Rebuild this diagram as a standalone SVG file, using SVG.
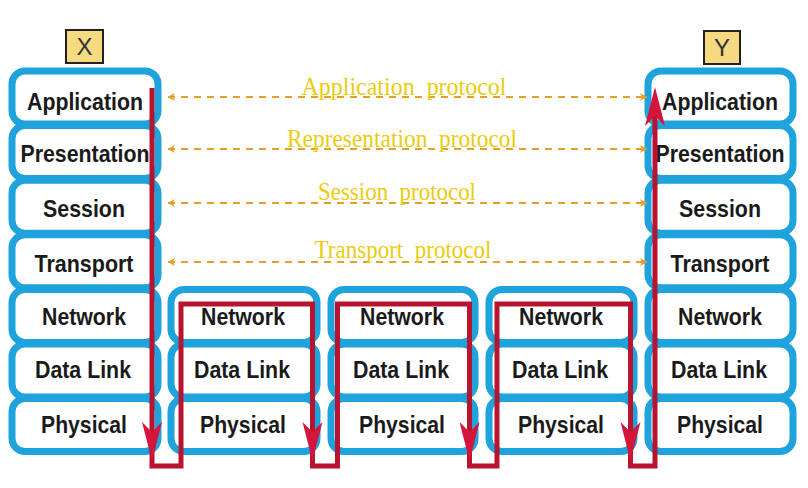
<svg xmlns="http://www.w3.org/2000/svg" width="808" height="488" viewBox="0 0 808 488">
<defs>
<style>
.layer{fill:#fff;stroke:#1fa3dd;stroke-width:7}
.lbl{font-family:"Liberation Sans",Arial,sans-serif;font-weight:bold;font-size:24px;fill:#1a1a1a;text-anchor:middle}
.tag{fill:#f6da82;stroke:#222;stroke-width:2}
.tagt{font-family:"Liberation Sans",Arial,sans-serif;font-size:24px;fill:#333;text-anchor:middle}
.proto{font-family:"Liberation Serif","Times New Roman",serif;font-size:26px;fill:#eccb0c;text-anchor:middle;white-space:pre}
.dash{fill:none;stroke:#e6a02a;stroke-width:2;stroke-dasharray:7 6}
.red{fill:none;stroke:#b8142f;stroke-width:5;stroke-linejoin:miter}
.head{fill:#d4153c}
</style>
<marker id="oa" viewBox="0 0 10 10" refX="9" refY="5" markerWidth="9" markerHeight="8" markerUnits="userSpaceOnUse" orient="auto-start-reverse">
<path d="M0,0 L10,5 L0,10 L3,5 Z" fill="#e6a02a"/>
</marker>
</defs>
<rect width="808" height="488" fill="#fff"/>

<g id="tagX"><rect class="tag" x="66" y="30" width="37" height="33"/><text class="tagt" x="84.5" y="55">X</text></g>
<g id="tagY"><rect class="tag" x="704" y="31" width="36" height="33"/><text class="tagt" x="722" y="56">Y</text></g>

<g id="stackX">
<rect class="layer" x="12" y="71" width="146" height="53" rx="13"/>
<rect class="layer" x="12" y="125.6" width="146" height="53" rx="13"/>
<rect class="layer" x="12" y="180.2" width="146" height="53" rx="13"/>
<rect class="layer" x="12" y="234.8" width="146" height="53" rx="13"/>
<rect class="layer" x="12" y="289.4" width="146" height="53" rx="13"/>
<rect class="layer" x="12" y="344" width="146" height="53" rx="13"/>
<rect class="layer" x="12" y="398.6" width="146" height="53" rx="13"/>
<text class="lbl" x="85" y="110" textLength="116" lengthAdjust="spacingAndGlyphs">Application</text>
<text class="lbl" x="85" y="162" textLength="129" lengthAdjust="spacingAndGlyphs">Presentation</text>
<text class="lbl" x="84" y="217" textLength="82" lengthAdjust="spacingAndGlyphs">Session</text>
<text class="lbl" x="84" y="272" textLength="99" lengthAdjust="spacingAndGlyphs">Transport</text>
<text class="lbl" x="84" y="325" textLength="84" lengthAdjust="spacingAndGlyphs">Network</text>
<text class="lbl" x="83" y="378" textLength="96" lengthAdjust="spacingAndGlyphs">Data Link</text>
<text class="lbl" x="84" y="433" textLength="86" lengthAdjust="spacingAndGlyphs">Physical</text>
</g>

<g id="router1">
<rect class="layer" x="171" y="289.4" width="146" height="53" rx="13"/>
<rect class="layer" x="171" y="344" width="146" height="53" rx="13"/>
<rect class="layer" x="171" y="398.6" width="146" height="53" rx="13"/>
<text class="lbl" x="243" y="325" textLength="84" lengthAdjust="spacingAndGlyphs">Network</text>
<text class="lbl" x="242" y="378" textLength="96" lengthAdjust="spacingAndGlyphs">Data Link</text>
<text class="lbl" x="243" y="433" textLength="86" lengthAdjust="spacingAndGlyphs">Physical</text>
</g>

<g id="router2">
<rect class="layer" x="331" y="289.4" width="144" height="53" rx="13"/>
<rect class="layer" x="331" y="344" width="144" height="53" rx="13"/>
<rect class="layer" x="331" y="398.6" width="144" height="53" rx="13"/>
<text class="lbl" x="402" y="325" textLength="84" lengthAdjust="spacingAndGlyphs">Network</text>
<text class="lbl" x="401" y="378" textLength="96" lengthAdjust="spacingAndGlyphs">Data Link</text>
<text class="lbl" x="402" y="433" textLength="86" lengthAdjust="spacingAndGlyphs">Physical</text>
</g>

<g id="router3">
<rect class="layer" x="489" y="289.4" width="145" height="53" rx="13"/>
<rect class="layer" x="489" y="344" width="145" height="53" rx="13"/>
<rect class="layer" x="489" y="398.6" width="145" height="53" rx="13"/>
<text class="lbl" x="561" y="325" textLength="84" lengthAdjust="spacingAndGlyphs">Network</text>
<text class="lbl" x="560" y="378" textLength="96" lengthAdjust="spacingAndGlyphs">Data Link</text>
<text class="lbl" x="561" y="433" textLength="86" lengthAdjust="spacingAndGlyphs">Physical</text>
</g>

<g id="stackY">
<rect class="layer" x="648" y="71" width="145" height="53" rx="13"/>
<rect class="layer" x="648" y="125.6" width="145" height="53" rx="13"/>
<rect class="layer" x="648" y="180.2" width="145" height="53" rx="13"/>
<rect class="layer" x="648" y="234.8" width="145" height="53" rx="13"/>
<rect class="layer" x="648" y="289.4" width="145" height="53" rx="13"/>
<rect class="layer" x="648" y="344" width="145" height="53" rx="13"/>
<rect class="layer" x="648" y="398.6" width="145" height="53" rx="13"/>
<text class="lbl" x="720" y="110" textLength="116" lengthAdjust="spacingAndGlyphs">Application</text>
<text class="lbl" x="720" y="162" textLength="129" lengthAdjust="spacingAndGlyphs">Presentation</text>
<text class="lbl" x="720" y="217" textLength="82" lengthAdjust="spacingAndGlyphs">Session</text>
<text class="lbl" x="720" y="272" textLength="99" lengthAdjust="spacingAndGlyphs">Transport</text>
<text class="lbl" x="720" y="325" textLength="84" lengthAdjust="spacingAndGlyphs">Network</text>
<text class="lbl" x="719" y="378" textLength="96" lengthAdjust="spacingAndGlyphs">Data Link</text>
<text class="lbl" x="720" y="433" textLength="86" lengthAdjust="spacingAndGlyphs">Physical</text>
</g>

<g id="connectors">
<line class="dash" x1="168" y1="97" x2="647" y2="97" marker-start="url(#oa)" marker-end="url(#oa)"/>
<line class="dash" x1="168" y1="149" x2="647" y2="149" marker-start="url(#oa)" marker-end="url(#oa)"/>
<line class="dash" x1="168" y1="203" x2="647" y2="203" marker-start="url(#oa)" marker-end="url(#oa)"/>
<line class="dash" x1="168" y1="262" x2="647" y2="262" marker-start="url(#oa)" marker-end="url(#oa)"/>
<text class="proto" x="404" y="95" textLength="205" lengthAdjust="spacingAndGlyphs">Application  protocol</text>
<text class="proto" x="402" y="147" textLength="230" lengthAdjust="spacingAndGlyphs">Representation  protocol</text>
<text class="proto" x="397" y="200" textLength="158" lengthAdjust="spacingAndGlyphs">Session  protocol</text>
<text class="proto" x="403" y="258" textLength="177" lengthAdjust="spacingAndGlyphs">Transport  protocol</text>

<path class="red" d="M152,88 V466 H181 V304 H312.5 V466 H337.5 V304 H469.5 V466 H497 V304 H630.5 V466 H655 V110"/>
<polygon class="head" points="152,461 142,422 152,432 162,422"/>
<polygon class="head" points="312.5,461 302.5,422 312.5,432 322.5,422"/>
<polygon class="head" points="469.5,461 459.5,422 469.5,432 479.5,422"/>
<polygon class="head" points="630.5,461 620.5,422 630.5,432 640.5,422"/>
<polygon class="head" points="655,87 645,126 655,116 665,126"/>
</g>
</svg>
